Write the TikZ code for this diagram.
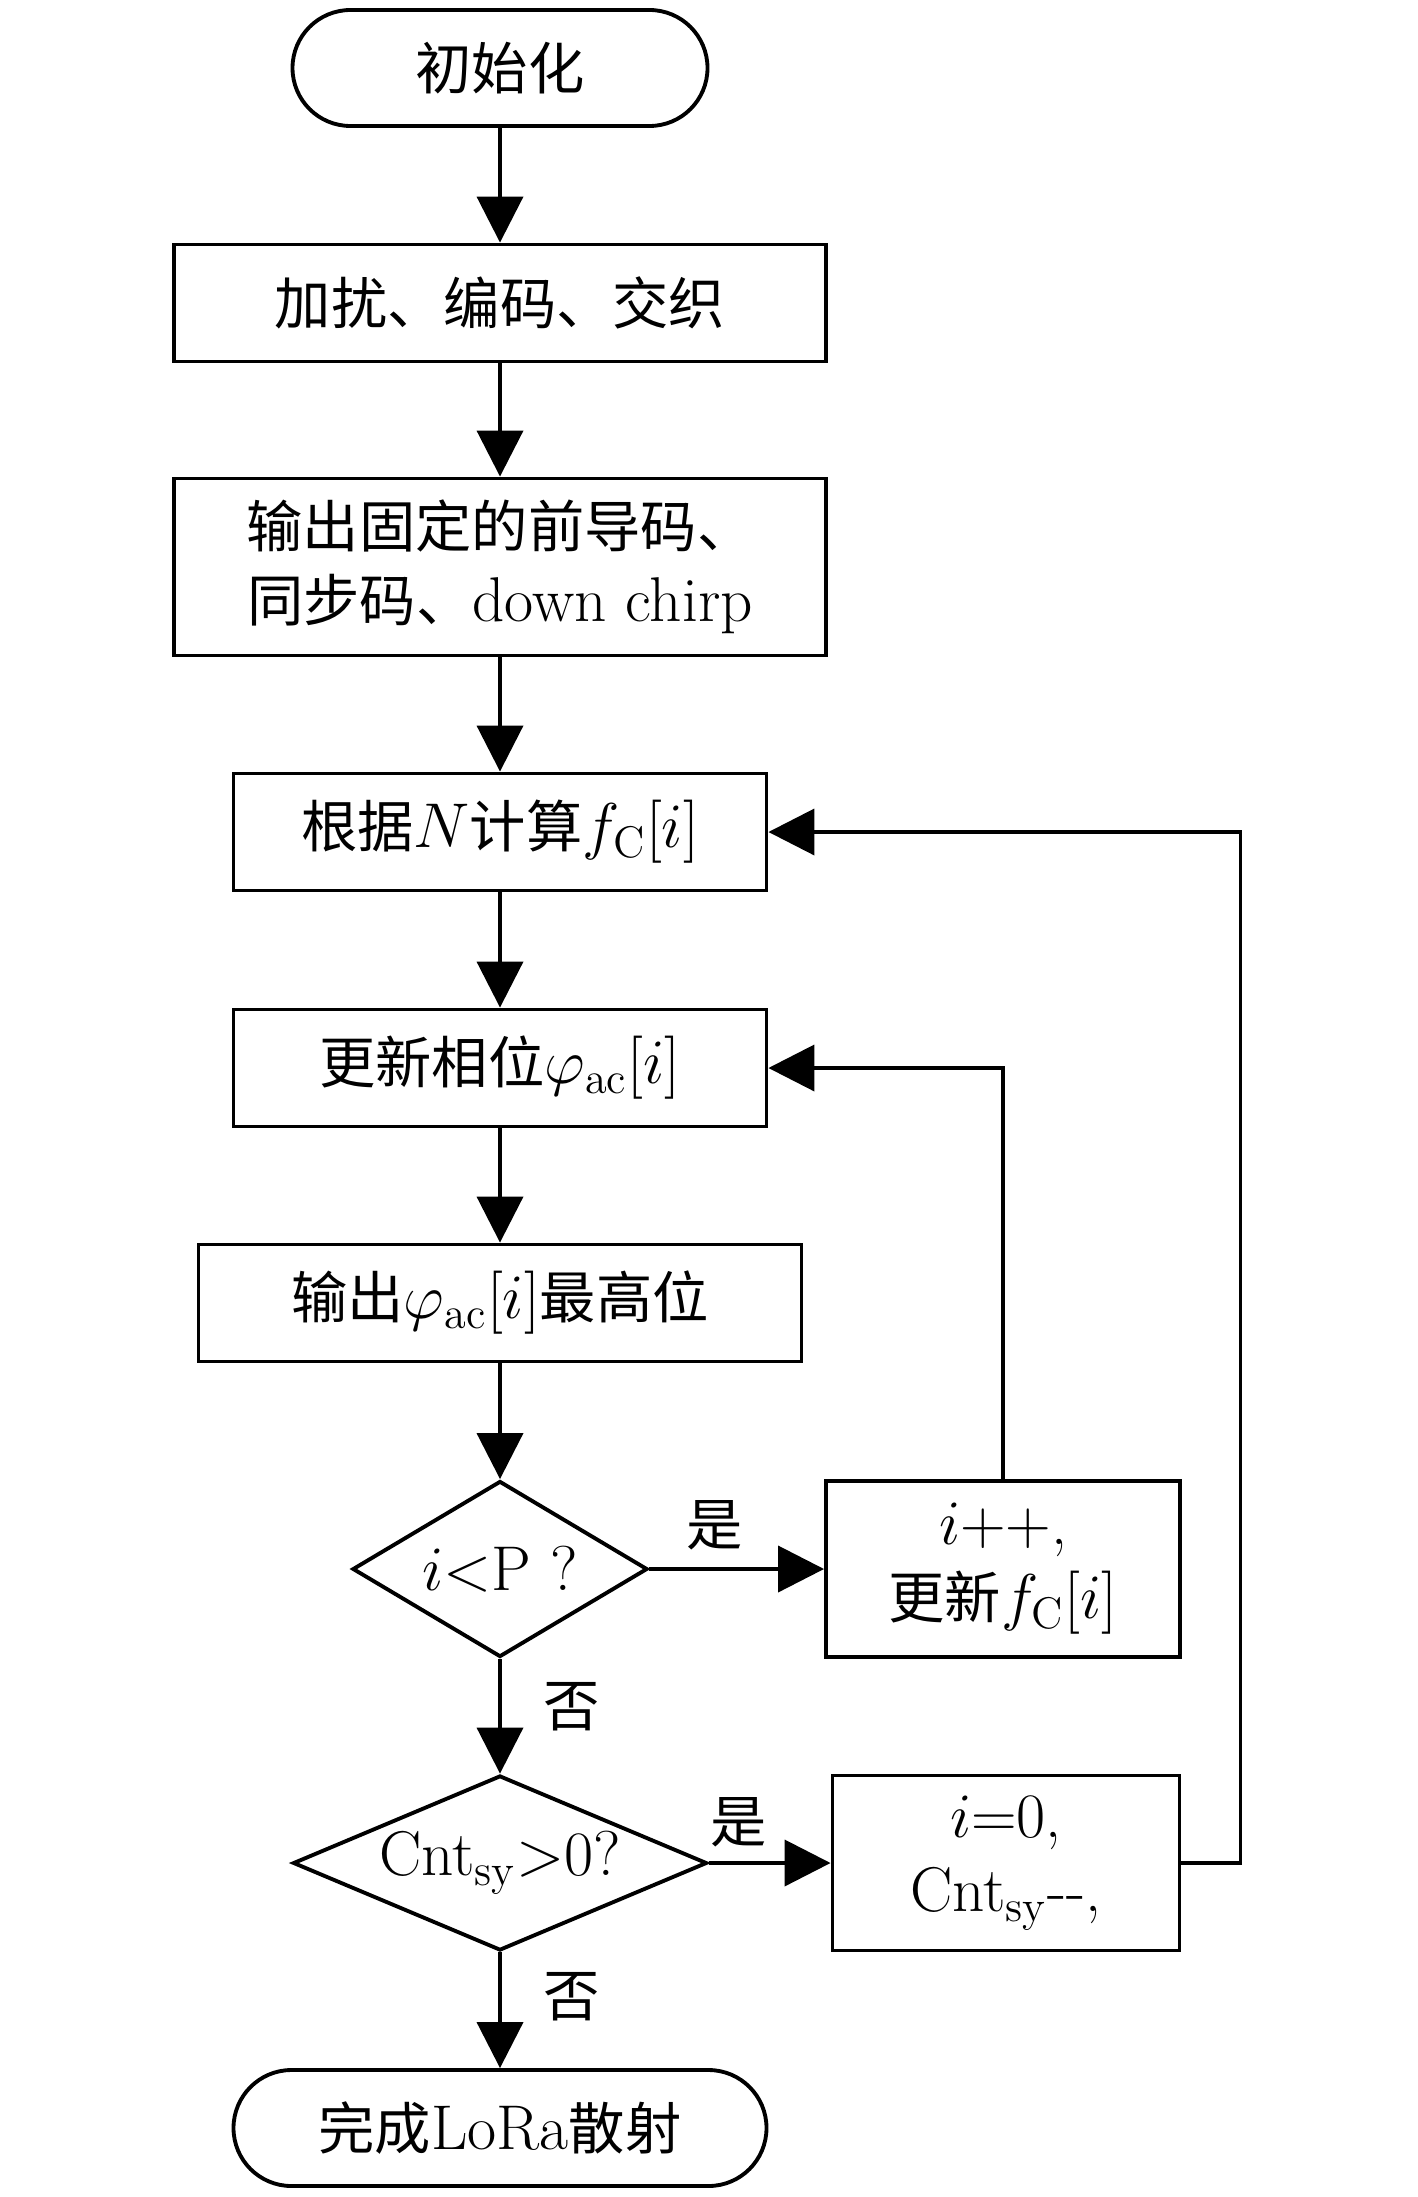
\documentclass[tikz,border=0pt]{standalone}
\usepackage{fix-cm}
\usepackage{amsmath}
\usepackage{fontspec}
\newfontfamily\cjk[Scale=0.89]{Noto Sans CJK SC}
\newcommand{\zh}[1]{{\cjk #1}}
\usetikzlibrary{arrows.meta,shapes.geometric,calc}

\begin{document}
\begin{tikzpicture}[
            >={Triangle[length=4.6mm,width=4.6mm]},
            every node/.style={font=\fontsize{18}{21}\selectfont},
            term/.style={draw, line width=1.1pt, rectangle, rounded corners=0.58cm, minimum width=4.15cm, minimum height=1.16cm, inner sep=0pt},
            proc/.style={draw, line width=1.1pt, rectangle, minimum height=1.17cm, inner sep=0pt, align=center},
            cond/.style={draw, line width=1.1pt, diamond, inner sep=0pt, align=center},
            lbl/.style={inner sep=0pt},
            line width=1.1pt
        ]
            \useasboundingbox (0,0) rectangle (14.17,-21.97);

            \node[term] (start) at (5.00,-0.68) {\zh{初始化}};
            \node[proc, minimum width=6.52cm] (scram) at (5.00,-3.03) {\zh{加扰、编码、交织}};
            \node[proc, minimum width=6.52cm, minimum height=1.77cm] (pre) at (5.00,-5.67) {\zh{输出固定的前导码、}\\ \zh{同步码、}down chirp};
            \node[proc, minimum width=5.33cm] (freq) at (5.00,-8.32) {\zh{根据}$N$\zh{计算}$f_{\mathrm{C}}[i]$};
            \node[proc, minimum width=5.33cm] (phase) at (5.00,-10.68) {\zh{更新相位}$\varphi_{\mathrm{ac}}[i]$};
            \node[proc, minimum width=6.03cm] (msb) at (5.00,-13.03) {\zh{输出}$\varphi_{\mathrm{ac}}[i]$\zh{最高位}};
            \node[cond, shape aspect=1.68, minimum width=2.95cm, minimum height=1.76cm] (cmpP) at (5.00,-15.69) {$i{<}\mathrm{P}$ ?};
            \node[proc, minimum width=3.54cm, minimum height=1.76cm] (incr) at (10.03,-15.69) {$i{+}{+}$,\\ \zh{更新}$f_{\mathrm{C}}[i]$};
            \node[cond, shape aspect=2.37, minimum width=4.14cm, minimum height=1.75cm] (cmpC) at (5.00,-18.63) {Cnt$_{\mathrm{sy}}{>}$0?};
            \node[proc, minimum width=3.47cm, minimum height=1.75cm] (reset) at (10.06,-18.63) {$i$=0,\\ Cnt$_{\mathrm{sy}}$-{}-,};
            \node[term, minimum width=5.33cm] (done) at (5.00,-21.28) {\zh{完成}LoRa\zh{散射}};

            \node[lbl] (yesP) at (7.15,-15.25) {\zh{是}};
            \node[lbl] (noP) at (5.72,-17.07) {\zh{否}};
            \node[lbl] (yesC) at (7.39,-18.22) {\zh{是}};
            \node[lbl] (noC) at (5.72,-19.97) {\zh{否}};

            \draw[->] (start) -- (scram);
            \draw[->] (scram) -- (pre);
            \draw[->] (pre) -- (freq);
            \draw[->] (freq) -- (phase);
            \draw[->] (phase) -- (msb);
            \draw[->] (msb) -- (cmpP);
            \draw[->] (cmpP) -- (cmpC);
            \draw[->] (cmpC) -- (done);
            \draw[->] (cmpP) -- (incr);
            \draw[->] (cmpC) -- (reset);
            \draw[->] (incr.north) |- (phase.east);
            \draw[->] (reset.east) -- ++(0.59,0) |- (freq.east);
        \end{tikzpicture}
\end{document}
